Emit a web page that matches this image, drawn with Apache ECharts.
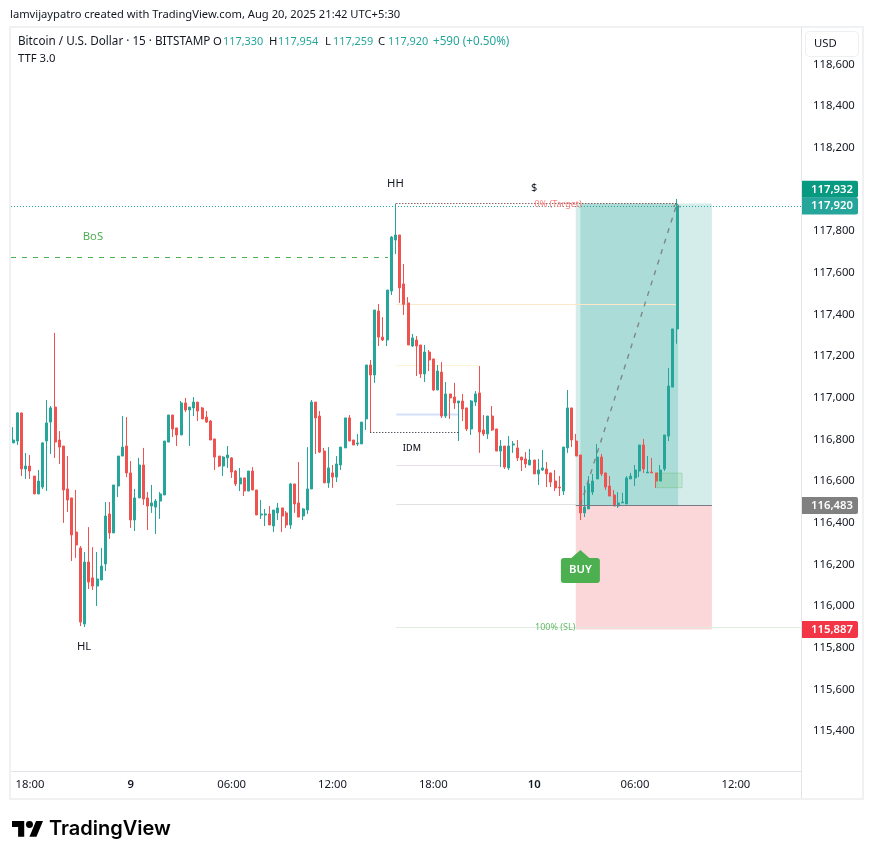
<!DOCTYPE html>
<html>
<head>
<meta charset="utf-8">
<title>BTCUSD 15</title>
<script src="https://cdn.jsdelivr.net/npm/echarts@6/dist/echarts.min.js"></script>
<style>
html,body{margin:0;padding:0;background:#fff}
#chart{width:873px;height:859px}
</style>
</head>
<body>
<div id="chart"></div>
<script>
// 15 minute bars
var opens = [116783,116792,116927,116658,116672,116624,116538,116571,116792,116883,
116955,116797,116768,116562,116519,116355,116279,115914,116211,116135,
116096,116125,116202,116442,116351,116576,116720,116768,116639,116413,
116519,116677,116519,116480,116475,116504,116533,116787,116917,116855,
116821,116975,116941,116951,116979,116951,116907,116888,116802,116720,
116672,116711,116711,116648,116586,116615,116552,116648,116557,116437,
116437,116442,116384,116447,116471,116447,116389,116586,116495,116432,
116461,116562,116979,116912,116744,116591,116639,116619,116677,116759,
116903,116797,116778,116778,116898,117157,117109,117416,117291,117277,
117512,117757,117781,117546,117455,117248,117277,117253,117114,117219,
117186,117037,117123,116912,117018,117003,116975,116984,116951,116850,
116979,117023,116845,116826,116912,116850,116744,116768,116663,116773,
116759,116715,116706,116677,116701,116634,116653,116658,116639,116600,
116571,116552,116759,116951,116792,116725,116447,116466,116547,116610,
116715,116639,116576,116533,116480,116495,116490,116610,116615,116648,
116773,116639,116643,116639,116600,116658,116816,117051,117330];
var closes = [116797,116927,116658,116672,116648,116538,116600,116783,116879,116951,
116787,116763,116557,116509,116341,116293,115923,116211,116115,116096,
116130,116192,116432,116351,116581,116720,116763,116639,116413,116519,
116677,116514,116480,116495,116504,116538,116792,116917,116850,116821,
116975,116941,116955,116979,116936,116898,116883,116797,116715,116672,
116715,116725,116643,116586,116615,116552,116648,116557,116437,116442,
116442,116389,116461,116471,116432,116389,116586,116490,116427,116466,
116562,116979,116903,116739,116591,116663,116619,116682,116763,116903,
116792,116773,116783,116883,117157,117109,117421,117291,117277,117517,
117771,117781,117527,117448,117253,117287,117248,117114,117219,117181,
117037,117128,116912,117018,116999,116975,116984,116946,116850,116984,
117018,116835,116826,116912,116845,116744,116768,116667,116768,116778,
116711,116701,116682,116701,116634,116653,116663,116634,116595,116567,
116567,116763,116951,116797,116720,116447,116475,116586,116600,116715,
116634,116571,116528,116480,116495,116499,116615,116624,116653,116773,
116658,116643,116639,116600,116653,116821,117056,117330,117920];
var lows = [116783,116773,116624,116610,116610,116538,116538,116562,116552,116730,
116711,116682,116399,116451,116216,116231,115904,115899,116082,116077,
116000,116125,116168,116322,116351,116523,116720,116619,116375,116360,
116519,116485,116365,116447,116346,116418,116533,116787,116811,116768,
116821,116931,116768,116912,116888,116898,116879,116797,116653,116667,
116624,116663,116615,116576,116552,116528,116552,116557,116437,116418,
116384,116389,116355,116413,116355,116375,116370,116447,116427,116413,
116442,116562,116730,116735,116591,116567,116567,116595,116653,116759,
116792,116773,116768,116778,116845,116834,117071,117248,117272,117248,
117493,117690,117455,117397,117253,117243,117104,117095,117075,117128,
117032,117037,116903,116903,116898,116946,116792,116888,116840,116821,
116960,116735,116816,116802,116840,116744,116667,116658,116653,116735,
116696,116648,116663,116677,116634,116581,116648,116571,116571,116552,
116528,116533,116735,116763,116720,116413,116427,116466,116533,116610,
116624,116557,116528,116480,116471,116495,116490,116610,116576,116619,
116639,116639,116639,116567,116600,116648,116792,117051,117259];
var highs = [116859,116931,116927,116735,116725,116624,116653,116787,116989,116960,
117311,116840,116768,116720,116519,116557,116288,116259,116379,116283,
116259,116279,116499,116499,116581,116720,116912,116907,116696,116562,
116711,116759,116547,116581,116514,116547,116792,116917,116917,116855,
116984,116999,116955,117003,116979,116955,116936,116893,116802,116720,
116720,116768,116715,116653,116663,116615,116648,116667,116557,116509,
116466,116480,116461,116495,116471,116456,116591,116586,116691,116471,
116763,116989,116979,116936,116759,116763,116677,116720,116763,116903,
116917,116797,116826,116883,117157,117181,117421,117450,117387,117517,
117776,117932,117781,117642,117483,117306,117296,117253,117253,117229,
117186,117157,117171,117075,117018,117071,116984,117018,116951,116989,
117032,117152,116917,116912,116960,116850,116797,116768,116816,116792,
116797,116715,116739,116754,116701,116706,116749,116691,116639,116653,
116624,116763,117037,116951,116826,116725,116576,116624,116634,116778,
116730,116639,116624,116557,116547,116543,116624,116639,116677,116773,
116802,116720,116711,116639,116677,116821,117143,117330,117954];

var barCount = 188;
var tickBars = [4,28,52,76,100,124,148,172];
var tickLabels = ['18:00','9','06:00','12:00','18:00','10','06:00','12:00'];
var priceTagValues = [117932,117920,116483,115887];
var targetPrice = 117932, entryPrice = 116483, stopPrice = 115887, lastPrice = 117920;
var drawingLevels = {bos:117673, fib50:117448, pale:117155, idm:116917, dots:116834, lilac:116675, low:116488, sl:115897};
var noteTexts = ['HH','HL','BoS','$','IDM','0% (Target)','100% (SL)'];
var noteBars = [91,16.9,19,124,94.9,129.7,129];
var notePrices = [118026,115803,117771,118006,116758,117930,115899];

var sansFont = '"Noto Sans"';
var baseSize = 11.3;

var categories = [];
for (var i = 0; i < barCount; i++) {
    var minutes = 17 * 60 + i * 15;
    var h = Math.floor(minutes / 60) % 24, m = minutes % 60;
    categories.push('d' + Math.floor(minutes / 1440) + ' ' + (h < 10 ? '0' : '') + h + ':' + (m < 10 ? '0' : '') + m);
}
var candleRows = opens.map(function (o, k) { return [o, closes[k], lows[k], highs[k]]; });

function hLine(api, bar1, bar2, price, stroke, width, dash) {
    var a = api.coord([bar1, price]), b = api.coord([bar2, price]);
    var y = Math.floor(a[1]) + 0.5;
    return {type: 'line', shape: {x1: a[0], y1: y, x2: b[0], y2: y},
        style: {stroke: stroke, lineWidth: width || 1, lineDash: dash || null, fill: null}};
}
function box(api, bar1, bar2, p1, p2, fill, stroke) {
    var a = api.coord([bar1, p1]), b = api.coord([bar2, p2]);
    return {type: 'rect', shape: {x: a[0], y: a[1], width: b[0] - a[0], height: b[1] - a[1]},
        style: {fill: fill, stroke: stroke || null, lineWidth: 1}};
}

// position tool and the pale levels sit under the candles
function renderZones(params, api) {
    return {type: 'group', children: [
        box(api, 133.9, 166.3, targetPrice, entryPrice, 'rgba(38,166,154,0.2)'),
        box(api, 135, 158.25, targetPrice, entryPrice, 'rgba(38,166,154,0.235)'),
        box(api, 133.9, 166.3, entryPrice, stopPrice, 'rgba(242,54,69,0.2)'),
        hLine(api, 91.2, 158.2, drawingLevels.fib50, '#fce8c8', 1),
        hLine(api, 91.2, 111, drawingLevels.pale, '#fbf5d5', 1),
        hLine(api, 91.2, 106, drawingLevels.idm, '#d3dffb', 2),
        hLine(api, 91.2, 116, drawingLevels.lilac, '#e8dde8', 1),
        hLine(api, 91.2, 134, drawingLevels.low, '#e2e2e2', 1),
        hLine(api, 91.2, 187.5, drawingLevels.sl, '#dfecdf', 1)
    ]};
}

function renderDrawings(params, api) {
    var kids = [
        hLine(api, -0.5, 89.2, drawingLevels.bos, '#4caf50', 1, [5, 6]),
        hLine(api, 85, 106, drawingLevels.dots, '#131722', 1, [1, 2]),
        hLine(api, 91.2, 158.2, targetPrice, '#5a1a1a', 1, [1, 2]),
        hLine(api, -0.5, 187.5, lastPrice, '#26a69a', 1, [1, 2]),
        hLine(api, 133.9, 166.3, entryPrice, '#787b86', 1),
        box(api, 153.2, 159.2, 116638, 116568, 'rgba(76,175,80,0.14)', 'rgba(76,175,80,0.28)')
    ];
    var from = api.coord([135, entryPrice]), to = api.coord([158, targetPrice]);
    kids.push({type: 'line', shape: {x1: from[0], y1: from[1], x2: to[0], y2: to[1]},
        style: {stroke: 'rgba(120,120,120,0.85)', lineWidth: 1.4, lineDash: [5, 6]}});
    kids.push({type: 'polyline', shape: {points: [[to[0] - 4, to[1] + 3], [to[0], to[1]], [to[0] + 3, to[1] + 4]]},
        style: {stroke: 'rgba(120,120,120,0.85)', lineWidth: 1, fill: null}});

    var noteColors = ['#131722','#131722','#4caf50','#131722','#131722','#ff7f7f','#66bb6a'];
    var noteFonts = [baseSize + 'px ',baseSize + 'px ',baseSize + 'px ','11px ','500 9px ','9px ','9px '];
    noteTexts.forEach(function (t, k) {
        var p = api.coord([noteBars[k], notePrices[k]]);
        kids.push({type: 'text', style: {text: t, x: p[0], y: p[1], fill: noteColors[k],
            font: noteFonts[k] + sansFont, align: 'center', verticalAlign: 'middle'}});
    });

    // BUY arrow under the entry bar
    var tip = api.coord([135, 116269]);
    kids.push({type: 'polygon', shape: {points: [[tip[0], tip[1]], [tip[0] + 9, tip[1] + 8], [tip[0] - 9, tip[1] + 8]]},
        style: {fill: '#4caf50'}});
    kids.push({type: 'rect', shape: {x: tip[0] - 19.5, y: tip[1] + 8, width: 39, height: 25, r: 3}, style: {fill: '#4caf50'}});
    kids.push({type: 'text', style: {text: 'BUY', x: tip[0], y: tip[1] + 20, fill: '#fff',
        font: '600 ' + baseSize + 'px ' + sansFont, align: 'center', verticalAlign: 'middle'}});
    return {type: 'group', children: kids};
}

function renderTags(params, api) {
    var colors = ['#089981', '#26a69a', '#808080', '#f23645'];
    var shifts = [-14.2, 0, 0, 0];
    var kids = [];
    priceTagValues.forEach(function (v, k) {
        var c = api.coord([187.5, v]);
        var y = c[1] + shifts[k];
        kids.push({type: 'rect', shape: {x: c[0] + 1, y: y - 8.5, width: 56, height: 17, r: [0, 2, 2, 0]}, style: {fill: colors[k]}});
        kids.push({type: 'text', style: {text: v.toLocaleString('en-US'), x: c[0] + 31, y: y, fill: '#fff',
            font: '600 ' + baseSize + 'px ' + sansFont, align: 'center', verticalAlign: 'middle'}});
    });
    return {type: 'group', children: kids};
}

function headText(text, x, y, fill, font) {
    return {type: 'text', x: x, y: y, z: 100,
        style: {text: text, fill: fill, font: font || (baseSize + 'px ' + sansFont), verticalAlign: 'middle'}};
}
var ink = '#131722', up = '#26a69a';
var logoScale = 31 / 35.5;
var nameFont = '11.7px ' + sansFont, ohlcFont = '10.9px ' + sansFont;

var myChart = echarts.init(document.getElementById('chart'));
myChart.setOption({
    animation: false,
    backgroundColor: '#fff',
    grid: {left: 11, width: 790, top: 22.7, height: 750, containLabel: false},
    xAxis: [{
        type: 'category',
        data: categories,
        boundaryGap: true,
        axisLine: {show: false},
        axisTick: {show: false},
        splitLine: {show: false},
        axisLabel: {
            margin: 7,
            hideOverlap: false,
            color: ink,
            fontFamily: sansFont,
            fontSize: baseSize,
            interval: function (index) { return tickBars.indexOf(index) >= 0; },
            formatter: function (value) {
                var t = tickLabels[tickBars.indexOf(categories.indexOf(value))];
                return t.indexOf(':') < 0 ? '{day|' + t + '}' : t;
            },
            rich: {day: {fontWeight: 600, fontSize: baseSize, fontFamily: sansFont, color: ink}}
        }
    }, {
        // plain bar-number axis for the drawings, they start and stop between bars
        type: 'value', show: false, min: -0.5, max: barCount - 0.5
    }],
    yAxis: {
        type: 'value',
        position: 'right',
        min: 115200,
        max: 118800,
        interval: 200,
        scale: true,
        axisLine: {show: false},
        axisTick: {show: false},
        splitLine: {show: false},
        axisLabel: {
            margin: 12,
            color: ink,
            fontFamily: sansFont,
            fontSize: baseSize,
            showMinLabel: false,
            showMaxLabel: false,
            formatter: function (v) { return v.toLocaleString('en-US'); }
        }
    },
    series: [{
        type: 'custom', name: 'zones', xAxisIndex: 1, yAxisIndex: 0, z: 1, silent: true,
        data: [[0, 117000]], renderItem: renderZones
    }, {
        // 2.5 keeps every body at 3px after the subpixel rounding
        type: 'candlestick', name: 'BTCUSD', xAxisIndex: 0, yAxisIndex: 0, z: 2, barWidth: 2.5,
        itemStyle: {color: up, color0: '#ef5350', borderColor: up, borderColor0: '#ef5350', borderWidth: 1},
        data: candleRows
    }, {
        type: 'custom', name: 'drawings', xAxisIndex: 1, yAxisIndex: 0, z: 5, silent: true,
        data: [[0, 117000]], renderItem: renderDrawings
    }, {
        type: 'custom', name: 'tags', xAxisIndex: 1, yAxisIndex: 0, z: 20, silent: true,
        data: [[0, 117000]], renderItem: renderTags
    }],
    graphic: [
        {type: 'rect', z: 89, shape: {x: 803, y: 28, width: 59, height: 31}, style: {fill: '#fff'}},
        {type: 'rect', z: 90, shape: {x: 10, y: 27, width: 853, height: 772}, style: {fill: null, stroke: '#f0f1f3', lineWidth: 2}},
        {type: 'line', z: 90, shape: {x1: 801.5, y1: 27, x2: 801.5, y2: 798}, style: {stroke: '#e2e4ea', lineWidth: 1}},
        {type: 'line', z: 90, shape: {x1: 11, y1: 771.5, x2: 801, y2: 771.5}, style: {stroke: '#e2e4ea', lineWidth: 1}},
        {type: 'rect', z: 95, shape: {x: 805.5, y: 31.5, width: 53, height: 25, r: 4}, style: {fill: '#fff', stroke: '#eeeff2', lineWidth: 1}},
        headText('USD', 814, 44, ink),
        headText('lamvijaypatro created with TradingView.com, Aug 20, 2025 21:42 UTC+5:30', 10, 15, ink, '11.2px ' + sansFont),
        headText('Bitcoin / U.S. Dollar · 15 · BITSTAMP', 18, 42, ink, nameFont),
        headText('O', 213, 42, ink), headText('117,330', 223, 42, up, ohlcFont),
        headText('H', 269, 42, ink), headText('117,954', 278, 42, up, ohlcFont),
        headText('L', 325, 42, ink), headText('117,259', 333, 42, up, ohlcFont),
        headText('C', 378, 42, ink), headText('117,920', 388, 42, up, ohlcFont),
        headText('+590 (+0.50%)', 433, 42, up, nameFont),
        headText('TTF 3.0', 18, 59, ink),
        {type: 'group', x: 12, y: 817.5, scaleX: logoScale, scaleY: logoScale, z: 100, children: [
            {type: 'polygon', shape: {points: [[0, 4], [14, 4], [14, 22], [7, 22], [7, 11], [0, 11]]}, style: {fill: '#000'}},
            {type: 'polygon', shape: {points: [[20, 22], [28, 22], [35.5, 4], [27.5, 4]]}, style: {fill: '#000'}},
            {type: 'circle', shape: {cx: 20, cy: 8, r: 4}, style: {fill: '#000'}}
        ]},
        headText('TradingView', 49, 829, '#000', '600 20px Inter')
    ]
});
</script>
</body>
</html>
